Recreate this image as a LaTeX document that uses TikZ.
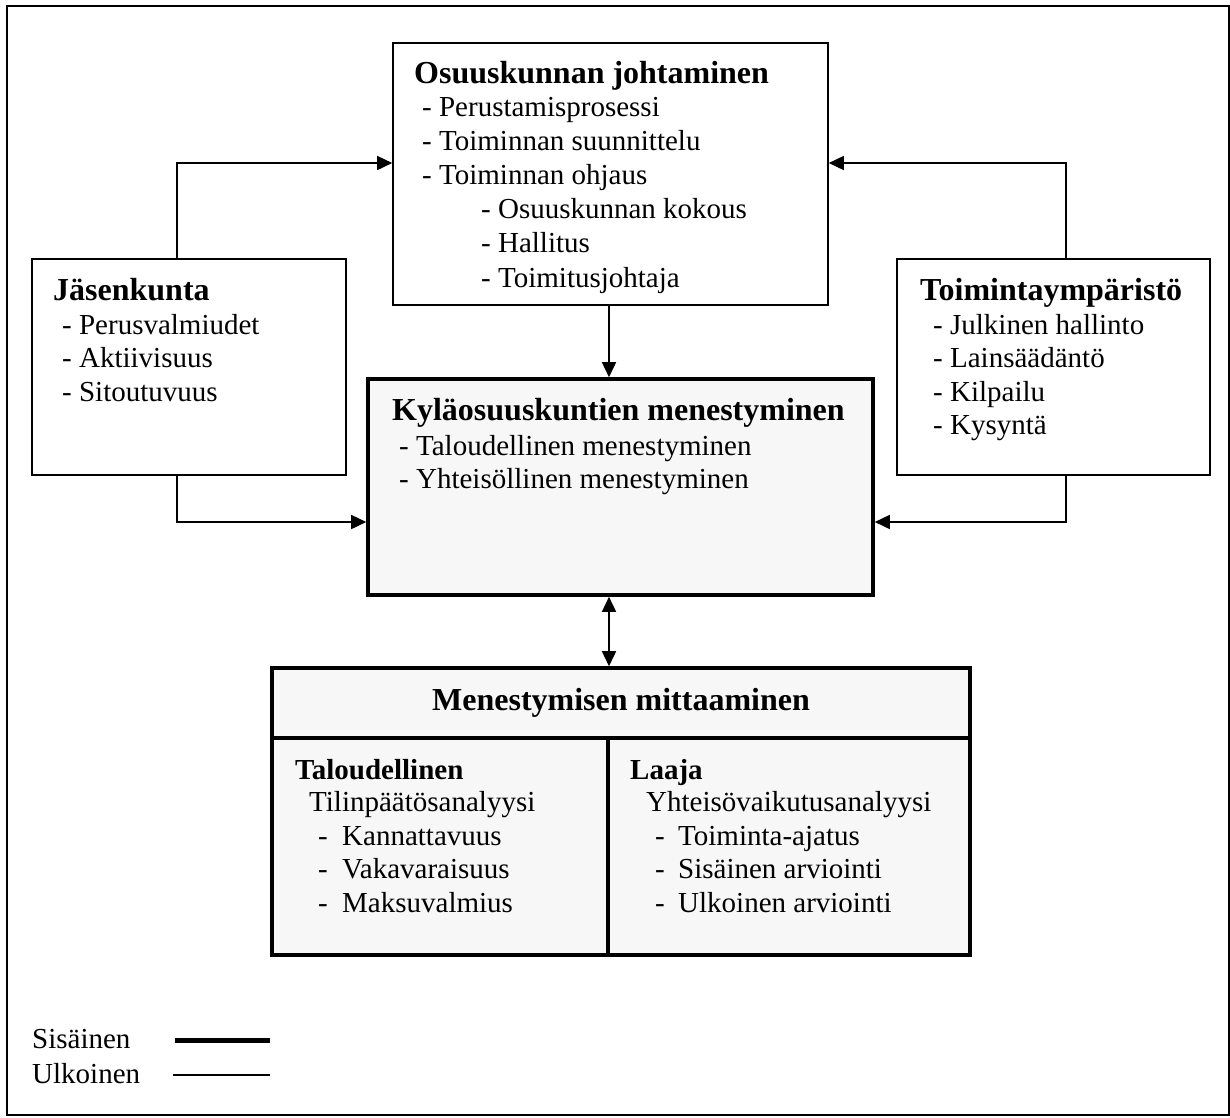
\documentclass[tikz,border=0pt]{standalone}
\usepackage{fontspec}
\setmainfont{Liberation Serif}
\usetikzlibrary{arrows.meta}
\definecolor{boxgray}{HTML}{F7F7F7}
\begin{document}
\begin{tikzpicture}[x=1pt,y=-1pt,
 thinbox/.style={draw, line width=1.6pt, fill=white, inner sep=0pt},
 thickbox/.style={draw, line width=3.6pt, fill=boxgray, inner sep=0pt},
 txt/.style={anchor=base west, inner sep=0pt, font=\fontsize{29}{34}\selectfont},
 ttl/.style={anchor=base west, inner sep=0pt, font=\fontsize{32}{38}\selectfont\bfseries},
 sttl/.style={anchor=base west, inner sep=0pt, font=\fontsize{29}{34}\selectfont\bfseries},
 arr/.style={line width=1.6pt, -{Triangle[length=15pt,width=14pt]}},
 arrtwo/.style={line width=1.6pt, {Triangle[length=15pt,width=14pt]}-{Triangle[length=15pt,width=14pt]}},
]
\useasboundingbox (0,0) rectangle (1230,1117);
\node[draw, line width=1.5pt, minimum width=1222pt, minimum height=1109pt, inner sep=0pt] (frame) at (618,560.5) {};

% boxes
\node[thinbox, minimum width=435pt, minimum height=262pt] (osu) at (610.5,174) {};
\node[thinbox, minimum width=314pt, minimum height=216pt] (jas) at (189,367) {};
\node[thinbox, minimum width=313pt, minimum height=216pt] (toi) at (1053.5,367) {};
\node[thickbox, minimum width=505pt, minimum height=216pt] (kyl) at (620.5,487) {};
\node[thickbox, minimum width=698pt, minimum height=70pt] (mh) at (621,703) {};
\node[thickbox, minimum width=336pt, minimum height=217pt] (ml) at (440,846.5) {};
\node[thickbox, minimum width=362pt, minimum height=217pt] (mr) at (789,846.5) {};

% Osuuskunnan johtaminen
\node[ttl] (osu0) at (414,83) {Osuuskunnan johtaminen};
\node[txt] (osu1) at (422,116) {- Perustamisprosessi};
\node[txt] (osu2) at (422,150) {- Toiminnan suunnittelu};
\node[txt] (osu3) at (422,184) {- Toiminnan ohjaus};
\node[txt] (osu4) at (481,218) {- Osuuskunnan kokous};
\node[txt] (osu5) at (481,252) {- Hallitus};
\node[txt] (osu6) at (481,287) {- Toimitusjohtaja};

% Jasenkunta
\node[ttl] (jas0) at (53,300) {Jäsenkunta};
\node[txt] (jas1) at (62,334) {- Perusvalmiudet};
\node[txt] (jas2) at (62,367) {- Aktiivisuus};
\node[txt] (jas3) at (62,401) {- Sitoutuvuus};

% Toimintaymparisto
\node[ttl] (toi0) at (920,300) {Toimintaympäristö};
\node[txt] (toi1) at (933,334) {- Julkinen hallinto};
\node[txt] (toi2) at (933,367) {- Lainsäädäntö};
\node[txt] (toi3) at (933,401) {- Kilpailu};
\node[txt] (toi4) at (933,434) {- Kysyntä};

% Kylaosuuskuntien menestyminen
\node[ttl] (kyl0) at (392,420) {Kyläosuuskuntien menestyminen};
\node[txt] (kyl1) at (399,455) {- Taloudellinen menestyminen};
\node[txt] (kyl2) at (399,488) {- Yhteisöllinen menestyminen};

% Menestymisen mittaaminen
\node[ttl, anchor=base] (mh0) at (621,710) {Menestymisen mittaaminen};
\node[sttl] (ml0) at (295,779) {Taloudellinen};
\node[txt] (ml1) at (309,811) {Tilinpäätösanalyysi};
\node[txt] (ml2) at (318,845) {\makebox[24pt][l]{-}Kannattavuus};
\node[txt] (ml3) at (318,878) {\makebox[24pt][l]{-}Vakavaraisuus};
\node[txt] (ml4) at (318,912) {\makebox[24pt][l]{-}Maksuvalmius};
\node[sttl] (mr0) at (630,779) {Laaja};
\node[txt] (mr1) at (646,811) {Yhteisövaikutusanalyysi};
\node[txt] (mr2) at (655,845) {\makebox[23pt][l]{-}Toiminta-ajatus};
\node[txt] (mr3) at (655,878) {\makebox[23pt][l]{-}Sisäinen arviointi};
\node[txt] (mr4) at (655,912) {\makebox[23pt][l]{-}Ulkoinen arviointi};

% connectors
\coordinate (ul) at (177,163);
\coordinate (ur) at (1066,163);
\coordinate (ll) at (177,522);
\coordinate (lr) at (1066,522);
\coordinate (cx) at (609,0);
\draw[arr] (ul |- jas.north) |- (osu.west |- ul);
\draw[arr] (ur |- toi.north) |- (osu.east |- ur);
\draw[arr] (ll |- jas.south) |- (kyl.west |- ll);
\draw[arr] (lr |- toi.south) |- (kyl.east |- lr);
\draw[arr] (cx |- osu.south) -- (cx |- kyl.north);
\draw[arrtwo] (cx |- kyl.south) -- (cx |- mh.north);

% legend
\node[txt] (lg1) at (32,1048) {Sisäinen};
\node[txt] (lg2) at (32,1083) {Ulkoinen};
\coordinate (lg1a) at (175,1040);
\coordinate (lg1b) at (270,1040);
\coordinate (lg2a) at (173,1075);
\coordinate (lg2b) at (270,1075);
\draw[line width=5pt] (lg1a) -- (lg1b);
\draw[line width=1.6pt] (lg2a) -- (lg2b);
\end{tikzpicture}
\end{document}
